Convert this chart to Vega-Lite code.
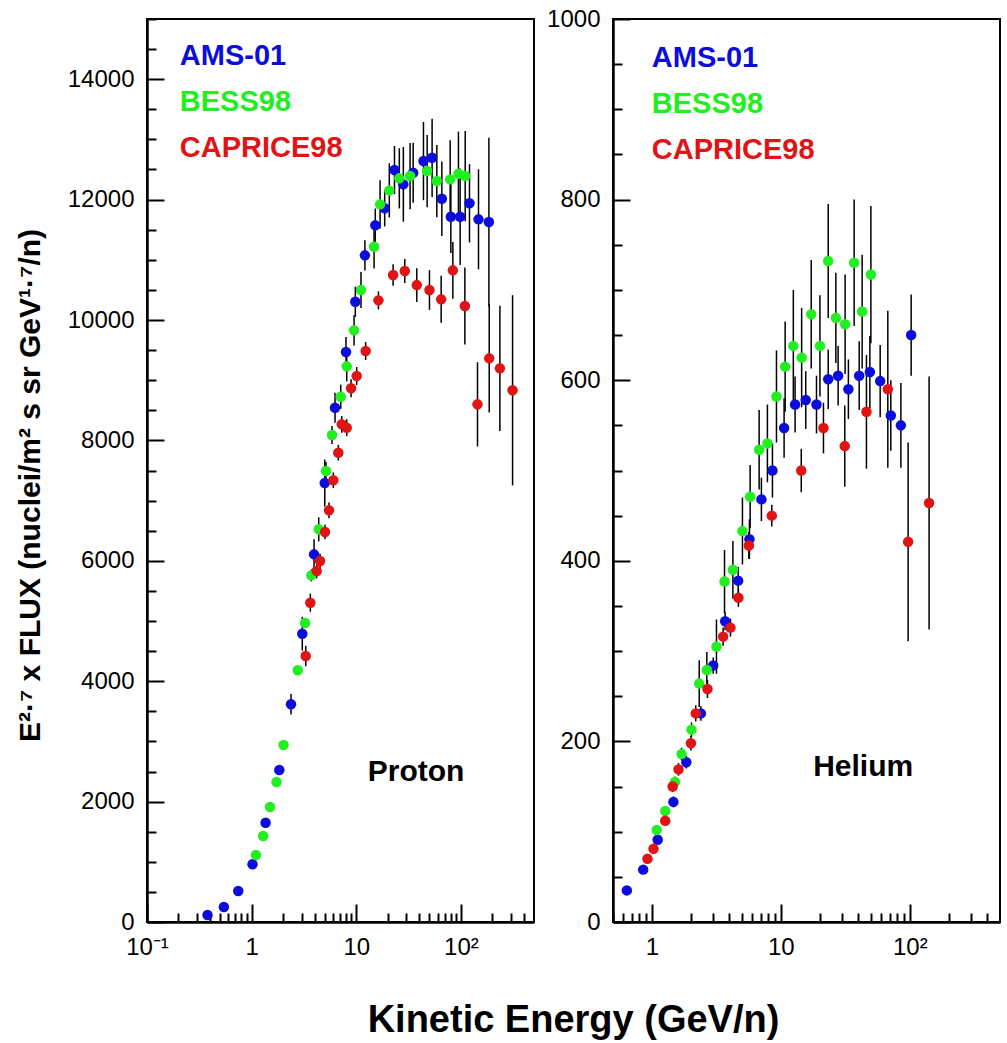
{
  "$schema": "https://vega.github.io/schema/vega-lite/v6.json",
  "background": "white",
  "padding": {"left": 14, "top": 6, "right": 0, "bottom": 0},
  "autosize": {"type": "pad"},
  "config": {
    "font": "Liberation Sans",
    "view": {"stroke": "black", "strokeWidth": 2},
    "axis": {"labelFont": "Liberation Sans", "labelFontSize": 24, "labelColor": "black", "domainColor": "black", "domainWidth": 2.5, "grid": false, "labelOverlap": false, "labelFlush": false, "titleFont": "Liberation Sans", "titleColor": "black"}
  },
  "title": {"text": "Kinetic Energy (GeV/n)", "orient": "bottom", "anchor": "middle", "fontSize": 38, "fontWeight": "bold", "font": "Liberation Sans", "color": "black", "offset": 42, "dx": 66},
  "datasets": {
    "proton": [
      {"exp": "AMS-01", "E": 0.379, "F": 116, "err": 20},
      {"exp": "AMS-01", "E": 0.543, "F": 249, "err": 20},
      {"exp": "AMS-01", "E": 0.745, "F": 515, "err": 25},
      {"exp": "AMS-01", "E": 1.02, "F": 958, "err": 30},
      {"exp": "AMS-01", "E": 1.36, "F": 1649, "err": 40},
      {"exp": "AMS-01", "E": 1.84, "F": 2525, "err": 60},
      {"exp": "AMS-01", "E": 2.38, "F": 3616, "err": 170},
      {"exp": "AMS-01", "E": 3.05, "F": 4789, "err": 280},
      {"exp": "AMS-01", "E": 3.95, "F": 6107, "err": 250},
      {"exp": "AMS-01", "E": 5.0, "F": 7292, "err": 390},
      {"exp": "AMS-01", "E": 6.27, "F": 8543, "err": 250},
      {"exp": "AMS-01", "E": 7.98, "F": 9468, "err": 250},
      {"exp": "AMS-01", "E": 9.8, "F": 10303, "err": 250},
      {"exp": "AMS-01", "E": 12.1, "F": 11074, "err": 250},
      {"exp": "AMS-01", "E": 15.2, "F": 11572, "err": 280},
      {"exp": "AMS-01", "E": 18.7, "F": 11855, "err": 300},
      {"exp": "AMS-01", "E": 23.2, "F": 12491, "err": 400},
      {"exp": "AMS-01", "E": 28.2, "F": 12253, "err": 620},
      {"exp": "AMS-01", "E": 35.0, "F": 12446, "err": 500},
      {"exp": "AMS-01", "E": 43.9, "F": 12640, "err": 650},
      {"exp": "AMS-01", "E": 53.1, "F": 12695, "err": 650},
      {"exp": "AMS-01", "E": 65.8, "F": 12014, "err": 620},
      {"exp": "AMS-01", "E": 80.2, "F": 11715, "err": 600},
      {"exp": "AMS-01", "E": 98.4, "F": 11715, "err": 800},
      {"exp": "AMS-01", "E": 120.9, "F": 11938, "err": 650},
      {"exp": "AMS-01", "E": 147.4, "F": 11672, "err": 830},
      {"exp": "AMS-01", "E": 185.3, "F": 11627, "err": 1400},
      {"exp": "BESS98", "E": 1.10, "F": 1113, "err": 20},
      {"exp": "BESS98", "E": 1.29, "F": 1428, "err": 20},
      {"exp": "BESS98", "E": 1.50, "F": 1910, "err": 25},
      {"exp": "BESS98", "E": 1.73, "F": 2325, "err": 30},
      {"exp": "BESS98", "E": 2.02, "F": 2940, "err": 40},
      {"exp": "BESS98", "E": 2.76, "F": 4181, "err": 60},
      {"exp": "BESS98", "E": 3.24, "F": 4966, "err": 80},
      {"exp": "BESS98", "E": 3.72, "F": 5758, "err": 100},
      {"exp": "BESS98", "E": 4.38, "F": 6523, "err": 200},
      {"exp": "BESS98", "E": 5.14, "F": 7491, "err": 150},
      {"exp": "BESS98", "E": 5.87, "F": 8089, "err": 150},
      {"exp": "BESS98", "E": 7.11, "F": 8725, "err": 200},
      {"exp": "BESS98", "E": 8.11, "F": 9230, "err": 250},
      {"exp": "BESS98", "E": 9.53, "F": 9828, "err": 250},
      {"exp": "BESS98", "E": 11.1, "F": 10498, "err": 300},
      {"exp": "BESS98", "E": 14.8, "F": 11217, "err": 360},
      {"exp": "BESS98", "E": 16.9, "F": 11921, "err": 400},
      {"exp": "BESS98", "E": 20.7, "F": 12153, "err": 450},
      {"exp": "BESS98", "E": 25.8, "F": 12353, "err": 500},
      {"exp": "BESS98", "E": 32.7, "F": 12391, "err": 550},
      {"exp": "BESS98", "E": 47.6, "F": 12474, "err": 600},
      {"exp": "BESS98", "E": 58.9, "F": 12308, "err": 600},
      {"exp": "BESS98", "E": 79.0, "F": 12336, "err": 650},
      {"exp": "BESS98", "E": 94.8, "F": 12429, "err": 700},
      {"exp": "BESS98", "E": 110, "F": 12391, "err": 750},
      {"exp": "CAPRICE98", "E": 3.29, "F": 4418, "err": 170},
      {"exp": "CAPRICE98", "E": 3.64, "F": 5304, "err": 150},
      {"exp": "CAPRICE98", "E": 4.19, "F": 5830, "err": 120},
      {"exp": "CAPRICE98", "E": 4.51, "F": 5996, "err": 120},
      {"exp": "CAPRICE98", "E": 5.03, "F": 6478, "err": 120},
      {"exp": "CAPRICE98", "E": 5.49, "F": 6838, "err": 130},
      {"exp": "CAPRICE98", "E": 6.04, "F": 7337, "err": 130},
      {"exp": "CAPRICE98", "E": 6.74, "F": 7795, "err": 130},
      {"exp": "CAPRICE98", "E": 7.27, "F": 8267, "err": 140},
      {"exp": "CAPRICE98", "E": 8.11, "F": 8211, "err": 140},
      {"exp": "CAPRICE98", "E": 8.92, "F": 8865, "err": 150},
      {"exp": "CAPRICE98", "E": 10.1, "F": 9069, "err": 150},
      {"exp": "CAPRICE98", "E": 12.3, "F": 9484, "err": 150},
      {"exp": "CAPRICE98", "E": 16.3, "F": 10326, "err": 150},
      {"exp": "CAPRICE98", "E": 22.5, "F": 10747, "err": 180},
      {"exp": "CAPRICE98", "E": 29.1, "F": 10813, "err": 200},
      {"exp": "CAPRICE98", "E": 37.9, "F": 10580, "err": 280},
      {"exp": "CAPRICE98", "E": 50.1, "F": 10498, "err": 330},
      {"exp": "CAPRICE98", "E": 64.8, "F": 10343, "err": 390},
      {"exp": "CAPRICE98", "E": 83.8, "F": 10825, "err": 470},
      {"exp": "CAPRICE98", "E": 109.2, "F": 10232, "err": 640},
      {"exp": "CAPRICE98", "E": 144.2, "F": 8599, "err": 700},
      {"exp": "CAPRICE98", "E": 186.6, "F": 9363, "err": 900},
      {"exp": "CAPRICE98", "E": 236, "F": 9197, "err": 1040},
      {"exp": "CAPRICE98", "E": 312, "F": 8832, "err": 1580}
    ],
    "helium": [
      {"exp": "AMS-01", "E": 0.640, "F": 35, "err": 3},
      {"exp": "AMS-01", "E": 0.857, "F": 58, "err": 4},
      {"exp": "AMS-01", "E": 1.11, "F": 91, "err": 5},
      {"exp": "AMS-01", "E": 1.47, "F": 133, "err": 6},
      {"exp": "AMS-01", "E": 1.85, "F": 177, "err": 7},
      {"exp": "AMS-01", "E": 2.40, "F": 231, "err": 8},
      {"exp": "AMS-01", "E": 2.99, "F": 284, "err": 9},
      {"exp": "AMS-01", "E": 3.70, "F": 333, "err": 10},
      {"exp": "AMS-01", "E": 4.67, "F": 378, "err": 15},
      {"exp": "AMS-01", "E": 5.71, "F": 424, "err": 22},
      {"exp": "AMS-01", "E": 7.07, "F": 468, "err": 24},
      {"exp": "AMS-01", "E": 8.61, "F": 500, "err": 30},
      {"exp": "AMS-01", "E": 10.6, "F": 547, "err": 33},
      {"exp": "AMS-01", "E": 12.9, "F": 573, "err": 31},
      {"exp": "AMS-01", "E": 15.6, "F": 578, "err": 32},
      {"exp": "AMS-01", "E": 18.9, "F": 573, "err": 32},
      {"exp": "AMS-01", "E": 23.3, "F": 601, "err": 33},
      {"exp": "AMS-01", "E": 27.8, "F": 605, "err": 33},
      {"exp": "AMS-01", "E": 33.4, "F": 590, "err": 33},
      {"exp": "AMS-01", "E": 40.5, "F": 605, "err": 38},
      {"exp": "AMS-01", "E": 49.0, "F": 609, "err": 40},
      {"exp": "AMS-01", "E": 58.9, "F": 599, "err": 40},
      {"exp": "AMS-01", "E": 71.2, "F": 561, "err": 39},
      {"exp": "AMS-01", "E": 85.2, "F": 550, "err": 47},
      {"exp": "AMS-01", "E": 102.4, "F": 650, "err": 45},
      {"exp": "BESS98", "E": 1.09, "F": 102, "err": 4},
      {"exp": "BESS98", "E": 1.27, "F": 123, "err": 5},
      {"exp": "BESS98", "E": 1.51, "F": 155, "err": 6},
      {"exp": "BESS98", "E": 1.70, "F": 186, "err": 7},
      {"exp": "BESS98", "E": 2.03, "F": 213, "err": 8},
      {"exp": "BESS98", "E": 2.33, "F": 264, "err": 26},
      {"exp": "BESS98", "E": 2.67, "F": 279, "err": 20},
      {"exp": "BESS98", "E": 3.17, "F": 305, "err": 30},
      {"exp": "BESS98", "E": 3.66, "F": 377, "err": 35},
      {"exp": "BESS98", "E": 4.25, "F": 390, "err": 32},
      {"exp": "BESS98", "E": 5.04, "F": 433, "err": 37},
      {"exp": "BESS98", "E": 5.78, "F": 471, "err": 35},
      {"exp": "BESS98", "E": 6.79, "F": 523, "err": 44},
      {"exp": "BESS98", "E": 7.87, "F": 530, "err": 43},
      {"exp": "BESS98", "E": 9.25, "F": 582, "err": 51},
      {"exp": "BESS98", "E": 10.8, "F": 615, "err": 50},
      {"exp": "BESS98", "E": 12.5, "F": 638, "err": 62},
      {"exp": "BESS98", "E": 14.5, "F": 625, "err": 55},
      {"exp": "BESS98", "E": 17.2, "F": 673, "err": 60},
      {"exp": "BESS98", "E": 20.1, "F": 638, "err": 56},
      {"exp": "BESS98", "E": 23.3, "F": 732, "err": 63},
      {"exp": "BESS98", "E": 26.7, "F": 669, "err": 50},
      {"exp": "BESS98", "E": 31.5, "F": 662, "err": 55},
      {"exp": "BESS98", "E": 37.0, "F": 730, "err": 70},
      {"exp": "BESS98", "E": 42.7, "F": 676, "err": 63},
      {"exp": "BESS98", "E": 49.9, "F": 717, "err": 76},
      {"exp": "CAPRICE98", "E": 0.925, "F": 70, "err": 4},
      {"exp": "CAPRICE98", "E": 1.03, "F": 81, "err": 4},
      {"exp": "CAPRICE98", "E": 1.27, "F": 112, "err": 5},
      {"exp": "CAPRICE98", "E": 1.45, "F": 150, "err": 6},
      {"exp": "CAPRICE98", "E": 1.61, "F": 169, "err": 7},
      {"exp": "CAPRICE98", "E": 2.01, "F": 198, "err": 8},
      {"exp": "CAPRICE98", "E": 2.19, "F": 231, "err": 9},
      {"exp": "CAPRICE98", "E": 2.70, "F": 258, "err": 10},
      {"exp": "CAPRICE98", "E": 3.57, "F": 316, "err": 10},
      {"exp": "CAPRICE98", "E": 4.07, "F": 326, "err": 10},
      {"exp": "CAPRICE98", "E": 4.69, "F": 359, "err": 10},
      {"exp": "CAPRICE98", "E": 5.65, "F": 417, "err": 15},
      {"exp": "CAPRICE98", "E": 8.51, "F": 450, "err": 12},
      {"exp": "CAPRICE98", "E": 14.4, "F": 500, "err": 24},
      {"exp": "CAPRICE98", "E": 21.4, "F": 547, "err": 28},
      {"exp": "CAPRICE98", "E": 31.3, "F": 527, "err": 45},
      {"exp": "CAPRICE98", "E": 46.1, "F": 565, "err": 63},
      {"exp": "CAPRICE98", "E": 67.5, "F": 590, "err": 87},
      {"exp": "CAPRICE98", "E": 97, "F": 421, "err": 110},
      {"exp": "CAPRICE98", "E": 141, "F": 464, "err": 140}
    ],
    "legendP": [
      {"exp": "AMS-01", "E": 0.206, "F": 14384},
      {"exp": "BESS98", "E": 0.206, "F": 13620},
      {"exp": "CAPRICE98", "E": 0.206, "F": 12856}
    ],
    "legendH": [
      {"exp": "AMS-01", "E": 1.0, "F": 957},
      {"exp": "BESS98", "E": 1.0, "F": 906},
      {"exp": "CAPRICE98", "E": 1.0, "F": 855}
    ],
    "nameP": [{"exp": "note", "name": "Proton", "E": 37.3, "F": 2492}],
    "nameH": [{"exp": "note", "name": "Helium", "E": 43.5, "F": 172}]
  },
  "spacing": 79,
  "bounds": "flush",
  "hconcat": [
    {
      "width": 387,
      "height": 903,
      "resolve": {"scale": {"x": "shared", "y": "shared"}, "axis": {"x": "independent", "y": "independent"}},
      "layer": [
        {"data": {"name": "proton"}, "mark": {"type": "errorbar", "color": "black", "thickness": 1.5},
          "encoding": {
            "x": {"field": "E", "type": "quantitative", "scale": {"type": "log", "domain": [0.1, 500], "nice": false}, "axis": null},
            "y": {"field": "F", "type": "quantitative", "scale": {"domain": [0, 15000], "nice": false}, "axis": null},
            "yError": {"field": "err"}}},
        {"data": {"name": "proton"}, "mark": {"type": "point", "filled": true, "size": 110, "opacity": 1, "strokeWidth": 0},
          "encoding": {
            "x": {"field": "E", "type": "quantitative",
              "axis": {"title": null, "orient": "bottom", "tickColor": "black", "tickWidth": 2, "labels": false, "domain": false, "tickSize": -9,
                "values": [0.2,0.3,0.4,0.5,0.6,0.7,0.8,0.9,2,3,4,5,6,7,8,9,20,30,40,50,60,70,80,90,200,300,400]}},
            "y": {"field": "F", "type": "quantitative",
              "axis": {"title": null, "orient": "left", "tickColor": "black", "tickWidth": 2, "labels": false, "domain": false, "tickSize": -9,
                "values": [500,1000,1500,2500,3000,3500,4500,5000,5500,6500,7000,7500,8500,9000,9500,10500,11000,11500,12500,13000,13500,14500,15000]}},
            "color": {"field": "exp", "type": "nominal", "scale": {"domain": ["AMS-01", "BESS98", "CAPRICE98", "note"], "range": ["#0c0cdc", "#22ee22", "#e01414", "#000000"]}, "legend": null}}},
        {"data": {"name": "legendP"}, "mark": {"type": "text", "font": "Liberation Sans", "fontWeight": "bold", "fontSize": 29, "align": "left", "baseline": "middle"},
          "encoding": {
            "x": {"field": "E", "type": "quantitative", "scale": {"type": "log", "domain": [0.1, 500], "nice": false},
              "axis": {"title": null, "orient": "bottom", "tickColor": "black", "tickWidth": 2, "values": [0.1, 1, 10, 100], "tickSize": -18, "labelPadding": 31,
                "labelExpr": "datum.value == 0.1 ? '10⁻¹' : datum.value == 1 ? '1' : datum.value == 10 ? '10' : '10²'"}},
            "y": {"field": "F", "type": "quantitative", "scale": {"domain": [0, 15000], "nice": false},
              "axis": {"title": "E²·⁷ x FLUX (nuclei/m² s sr GeV¹·⁷/n)", "orient": "left", "tickColor": "black", "tickWidth": 2, "titleFontSize": 30, "titleFontWeight": "bold", "titleAngle": -90, "titleX": -117, "titleY": 466, "titleBaseline": "middle", "titleAlign": "center",
                "values": [0,2000,4000,6000,8000,10000,12000,14000], "format": "d", "tickSize": -17, "labelPadding": 30}},
            "text": {"field": "exp"}, "color": {"field": "exp", "type": "nominal", "legend": null}}},
        {"data": {"name": "nameP"}, "mark": {"type": "text", "font": "Liberation Sans", "fontWeight": "bold", "fontSize": 30, "align": "center", "baseline": "middle"},
          "encoding": {"x": {"field": "E", "type": "quantitative", "axis": null}, "y": {"field": "F", "type": "quantitative", "axis": null},
            "text": {"field": "name"}, "color": {"field": "exp", "type": "nominal", "legend": null}}}
      ]
    },
    {
      "width": 387,
      "height": 903,
      "resolve": {"scale": {"x": "shared", "y": "shared"}, "axis": {"x": "independent", "y": "independent"}},
      "layer": [
        {"data": {"name": "helium"}, "mark": {"type": "errorbar", "color": "black", "thickness": 1.5},
          "encoding": {
            "x": {"field": "E", "type": "quantitative", "scale": {"type": "log", "domain": [0.5, 500], "nice": false}, "axis": null},
            "y": {"field": "F", "type": "quantitative", "scale": {"domain": [0, 1000], "nice": false}, "axis": null},
            "yError": {"field": "err"}}},
        {"data": {"name": "helium"}, "mark": {"type": "point", "filled": true, "size": 110, "opacity": 1, "strokeWidth": 0},
          "encoding": {
            "x": {"field": "E", "type": "quantitative",
              "axis": {"title": null, "orient": "bottom", "tickColor": "black", "tickWidth": 2, "labels": false, "domain": false, "tickSize": -9,
                "values": [0.5,0.6,0.7,0.8,0.9,2,3,4,5,6,7,8,9,20,30,40,50,60,70,80,90,200,300,400]}},
            "y": {"field": "F", "type": "quantitative",
              "axis": {"title": null, "orient": "left", "tickColor": "black", "tickWidth": 2, "labels": false, "domain": false, "tickSize": -9,
                "values": [50,100,150,250,300,350,450,500,550,650,700,750,850,900,950]}},
            "color": {"field": "exp", "type": "nominal", "scale": {"domain": ["AMS-01", "BESS98", "CAPRICE98", "note"], "range": ["#0c0cdc", "#22ee22", "#e01414", "#000000"]}, "legend": null}}},
        {"data": {"name": "legendH"}, "mark": {"type": "text", "font": "Liberation Sans", "fontWeight": "bold", "fontSize": 29, "align": "left", "baseline": "middle"},
          "encoding": {
            "x": {"field": "E", "type": "quantitative", "scale": {"type": "log", "domain": [0.5, 500], "nice": false},
              "axis": {"title": null, "orient": "bottom", "tickColor": "black", "tickWidth": 2, "values": [1, 10, 100], "tickSize": -18, "labelPadding": 31,
                "labelExpr": "datum.value == 1 ? '1' : datum.value == 10 ? '10' : '10²'"}},
            "y": {"field": "F", "type": "quantitative", "scale": {"domain": [0, 1000], "nice": false},
              "axis": {"title": null, "orient": "left", "tickColor": "black", "tickWidth": 2, "values": [0,200,400,600,800,1000], "format": "d", "tickSize": -17, "labelPadding": 30}},
            "text": {"field": "exp"}, "color": {"field": "exp", "type": "nominal", "legend": null}}},
        {"data": {"name": "nameH"}, "mark": {"type": "text", "font": "Liberation Sans", "fontWeight": "bold", "fontSize": 30, "align": "center", "baseline": "middle"},
          "encoding": {"x": {"field": "E", "type": "quantitative", "axis": null}, "y": {"field": "F", "type": "quantitative", "axis": null},
            "text": {"field": "name"}, "color": {"field": "exp", "type": "nominal", "legend": null}}}
      ]
    }
  ]
}
